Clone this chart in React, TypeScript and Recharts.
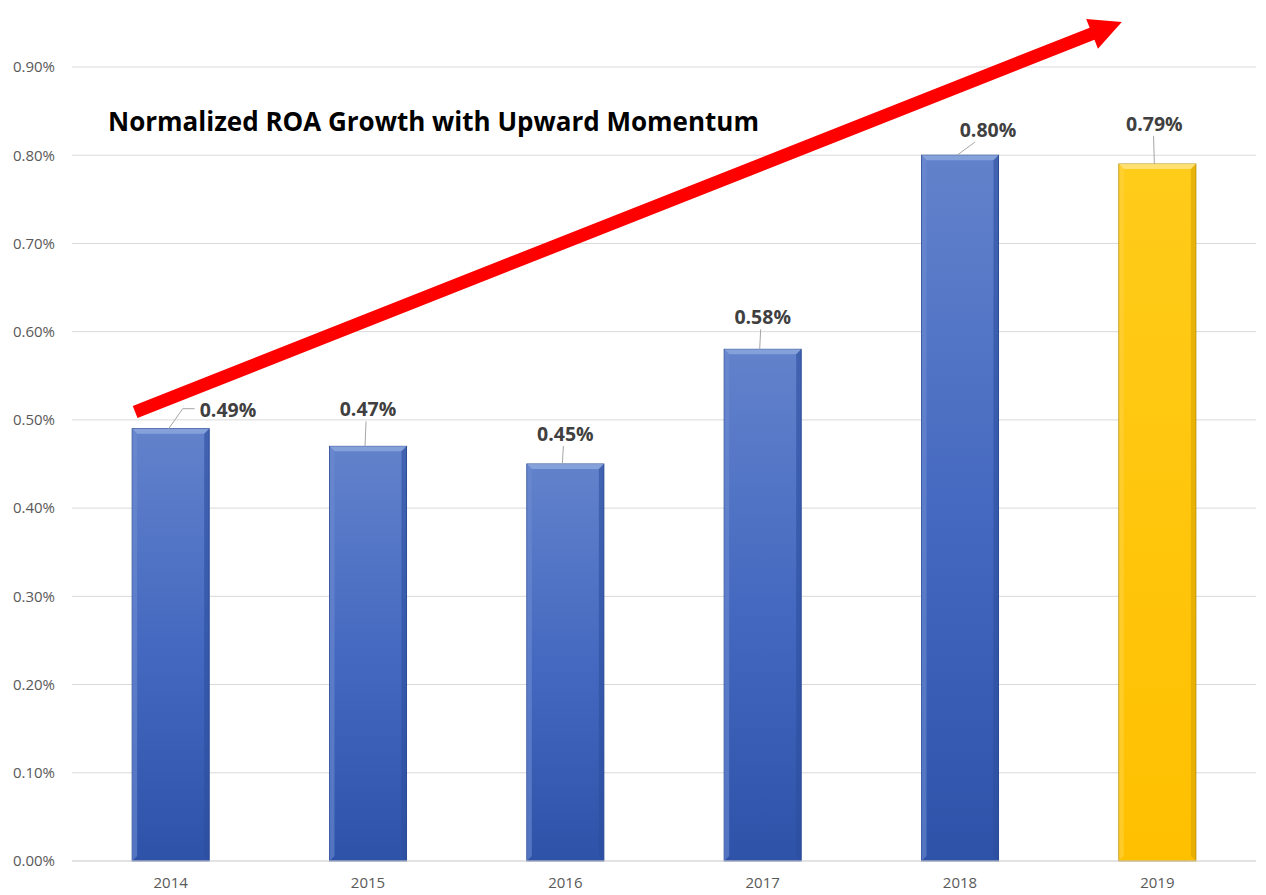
import React from "react";
import {
    BarChart,
    Bar,
    XAxis,
    YAxis,
    CartesianGrid,
    ReferenceLine,
    LabelList,
} from "recharts";

const years = ["2014", "2015", "2016", "2017", "2018", "2019"];
const roa = [0.0049, 0.0047, 0.0045, 0.0058, 0.008, 0.0079];
const yTicks = [0, 0.001, 0.002, 0.003, 0.004, 0.005, 0.006, 0.007, 0.008, 0.009];
const highlightYear = "2019";

// momentum arrow, in the hidden arrow axis (0..6 = category slots)
const arrowFrom = { x: 0.32, y: 0.00509 };
const arrowTo = { x: 5.32, y: 0.00951 };

// label nudges (px) so labels sit where the original had them
const labelDx = [29, 0, 0, 0, 28, -3];
const labelDy = [19, 37, 30, 32, 25, 40];

const data = years.map((year, i) => ({ year, roa: roa[i], slot: i + 0.5 }));

const pct = (v: number) => `${(v * 100).toFixed(2)}%`;

function BevelBar(props: any) {
    const { x, y, width, height, payload } = props;
    if (!height || height <= 0) return null;
    const gold = payload.year === highlightYear;
    const b = 5;
    return (
        <g>
            <rect x={x} y={y} width={width} height={height} fill={gold ? "url(#goldFill)" : "url(#blueFill)"} stroke={gold ? "#b58a00" : "#2a4a92"} strokeWidth={1} />
            <polygon
                points={`${x},${y} ${x + width},${y} ${x + width - b},${y + b} ${x + b},${y + b}`}
                fill={gold ? "#ffe27a" : "#8aa4dc"}
                opacity={0.9}
            />
            <polygon
                points={`${x},${y} ${x + b},${y + b} ${x + b},${y + height - b} ${x},${y + height}`}
                fill={gold ? "#ffd23f" : "#6d8bd0"}
                opacity={0.6}
            />
            <polygon
                points={`${x + width},${y} ${x + width - b},${y + b} ${x + width - b},${y + height - b} ${x + width},${y + height}`}
                fill={gold ? "#d9a300" : "#2d4f9e"}
                opacity={0.6}
            />
        </g>
    );
}

function ValueLabel(props: any) {
    const { x, y, width, value, index } = props;
    const cx = x + width / 2;
    const dx = labelDx[index] || 0;
    const dy = labelDy[index] || 30;
    const ty = y - dy;
    if (index === 0) {
        return (
            <g>
                <polyline points={`${cx - 2},${y} ${cx + 12},${ty - 1} ${cx + 24},${ty - 1}`} fill="none" stroke="#a6a6a6" strokeWidth={1} />
                <text x={cx + dx} y={ty + 7} fontFamily="Open Sans" fontWeight={700} fontSize={19.5} fill="#404040">
                    {pct(value)}
                </text>
            </g>
        );
    }
    return (
        <g>
            <line x1={cx - 3} y1={y} x2={cx + dx * 0.6 - 2} y2={ty + 12} stroke="#a6a6a6" strokeWidth={1} />
            <text x={cx + dx} y={ty + 7} textAnchor="middle" fontFamily="Open Sans" fontWeight={700} fontSize={19.5} fill="#404040">
                {pct(value)}
            </text>
        </g>
    );
}

function Arrow(props: any) {
    const { x1, y1, x2, y2 } = props;
    const dx = x2 - x1;
    const dy = y2 - y1;
    const len = Math.sqrt(dx * dx + dy * dy);
    const ux = dx / len;
    const uy = dy / len;
    const nx = -uy;
    const ny = ux;
    const shaft = 6.5;
    const head = 16;
    const headLen = 32;
    const bx = x2 - ux * headLen;
    const by = y2 - uy * headLen;
    const pts = [
        [x1 + nx * shaft, y1 + ny * shaft],
        [bx + nx * shaft, by + ny * shaft],
        [bx + nx * head, by + ny * head],
        [x2, y2],
        [bx - nx * head, by - ny * head],
        [bx - nx * shaft, by - ny * shaft],
        [x1 - nx * shaft, y1 - ny * shaft],
    ]
        .map(p => `${p[0]},${p[1]}`)
        .join(" ");
    return <polygon points={pts} fill="#ff0000" />;
}

export default function App() {
    return (
        <div style={{ position: "absolute", left: 0, top: 0, width: 1266, height: 895, background: "#fff" }}>
            <BarChart width={1266} height={895} data={data} margin={{ top: 67, right: 10, bottom: 4, left: 2 }} barCategoryGap="30.5%">
                <defs>
                    <linearGradient id="blueFill" x1="0" y1="0" x2="0" y2="1">
                        <stop offset="0%" stopColor="#6282cb" />
                        <stop offset="50%" stopColor="#4569c0" />
                        <stop offset="100%" stopColor="#2d52a8" />
                    </linearGradient>
                    <linearGradient id="goldFill" x1="0" y1="0" x2="0" y2="1">
                        <stop offset="0%" stopColor="#ffcc1a" />
                        <stop offset="100%" stopColor="#ffc000" />
                    </linearGradient>
                </defs>
                <CartesianGrid vertical={false} stroke="#d9d9d9" />
                <XAxis
                    dataKey="year"
                    tick={{ fontSize: 15, fill: "#595959", fontFamily: "Open Sans" }}
                    axisLine={{ stroke: "#d9d9d9" }}
                    tickLine={false}
                    tickMargin={10}
                />
                <XAxis xAxisId="arrow" dataKey="slot" type="number" domain={[0, 6]} allowDataOverflow hide />
                <YAxis
                    domain={[0, 0.009]}
                    ticks={yTicks}
                    tickFormatter={pct}
                    tick={{ fontSize: 15, fill: "#595959", fontFamily: "Open Sans" }}
                    axisLine={false}
                    tickLine={false}
                    width={70}
                    tickMargin={11}
                />
                <Bar dataKey="roa" shape={<BevelBar />} isAnimationActive={false}>
                    <LabelList dataKey="roa" content={<ValueLabel />} />
                </Bar>
                <ReferenceLine
                    xAxisId="arrow"
                    segment={[arrowFrom, arrowTo]}
                    ifOverflow="visible"
                    shape={<Arrow />}
                />
            </BarChart>
            <div
                style={{
                    position: "absolute",
                    left: 108,
                    top: 103,
                    fontFamily: "Open Sans",
                    fontWeight: 700,
                    fontSize: 26,
                    lineHeight: "36px",
                    color: "#000",
                    whiteSpace: "nowrap",
                }}
            >
                Normalized ROA Growth with Upward Momentum
            </div>
        </div>
    );
}
